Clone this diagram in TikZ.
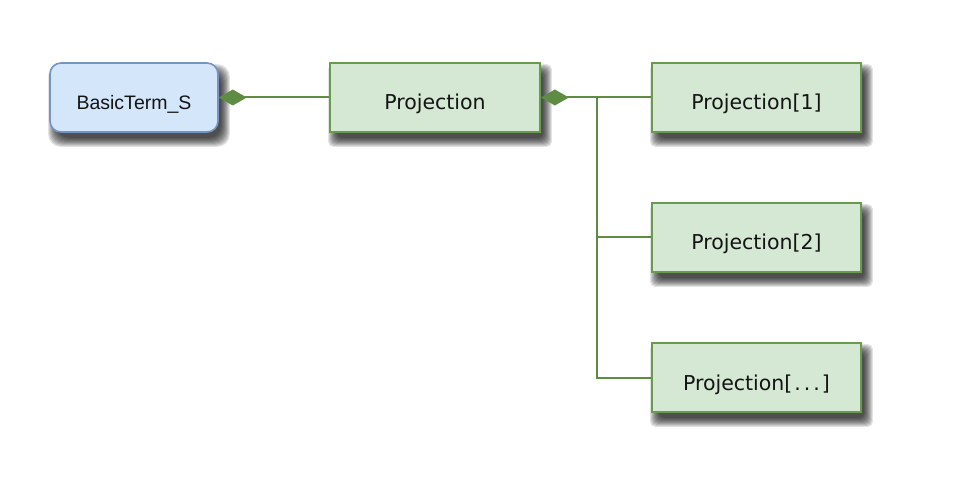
\documentclass[tikz,border=0pt]{standalone}
\usepackage{fontspec}
\usetikzlibrary{arrows.meta,calc,backgrounds}
\newfontfamily\projfont{DejaVu Sans}
\newfontfamily\btfont{Liberation Sans}
\definecolor{gfill}{HTML}{D5E8D4}
\definecolor{gdraw}{HTML}{6A9A4D}
\definecolor{gline}{HTML}{5E8C43}
\definecolor{bfill}{HTML}{D4E6FA}
\definecolor{bdraw}{HTML}{7495C4}
\tikzset{
  x=1pt, y=1pt,
  projbox/.style={draw=gdraw, fill=gfill, line width=1.8pt, minimum width=209pt, minimum height=69pt, inner sep=0pt, text height=25pt, text depth=0pt, font=\projfont\fontsize{20.5}{24}\selectfont, text=black!92},
  termbox/.style={draw=bdraw, fill=bfill, line width=1.6pt, rounded corners=11pt, minimum width=168pt, minimum height=69pt, inner sep=0pt, text height=24.5pt, text depth=0pt, font=\btfont\fontsize{19.5}{23}\selectfont, text=black!92},
  conn/.style={draw=gline, line width=2pt},
  comp/.style={conn, {Diamond[length=28pt,width=16pt,fill=gline]}-},
  shadlayer/.style={fill=black, fill opacity=0.11, draw=none}
}
\begin{document}
\begin{tikzpicture}
\useasboundingbox (0,0) rectangle (961,-494);
\node[termbox] (bt) at (134,-97.5) {BasicTerm\_S};
\node[projbox, minimum width=210pt] (proj) at (435,-97.5) {Projection};
\node[projbox] (p1) at (756.5,-97.5) {Projection[1]};
\node[projbox] (p2) at (756.5,-237.5) {Projection[2]};
\node[projbox] (p3) at (756.5,-377.5) {Projection[\kern2pt.\kern3pt.\kern3pt.\kern2pt]};
\coordinate (j) at ($(proj.east)+(56,0)$);
\draw[comp] (bt.east) -- (proj.west);
\draw[comp] (proj.east) -- (p1.west);
\draw[conn] (j) |- (p2.west);
\draw[conn] (j) |- (p3.west);
\begin{scope}[on background layer]
\foreach \n/\r in {bt/12,proj/5,p1/5,p2/5,p3/5}{
  \foreach \d in {-6,...,3}{
    \fill[shadlayer, rounded corners=\r pt]
      ($(\n.south west)+(5+\d,-8+\d)$) rectangle ($(\n.north east)+(5-\d,-8-\d)$);
  }
}
\end{scope}
\end{tikzpicture}
\end{document}
